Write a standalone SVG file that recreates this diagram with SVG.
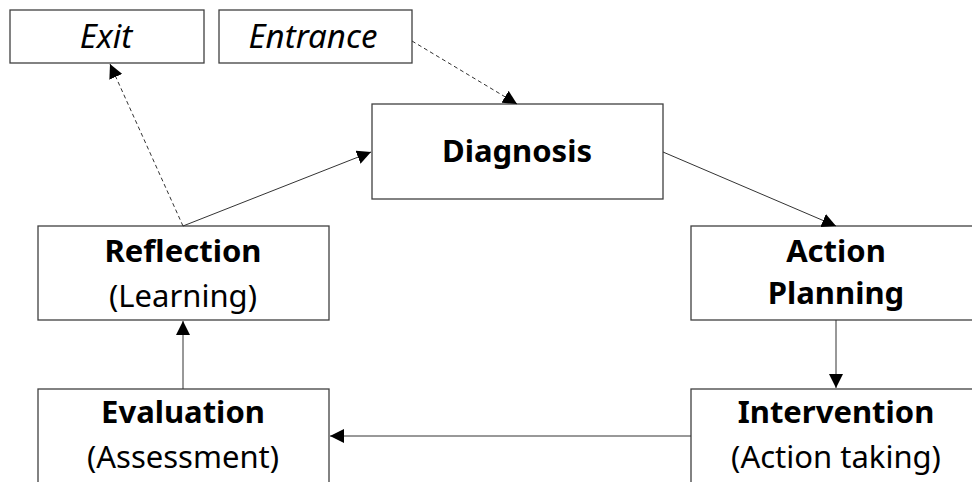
<svg xmlns="http://www.w3.org/2000/svg" width="972" height="482" viewBox="0 0 972 482">
<defs>
<style>
.box{fill:#fff;stroke:#404040;stroke-width:1.3}
.t{font-family:"Noto Sans","Open Sans","DejaVu Sans",sans-serif;font-size:31px;text-anchor:middle;fill:#000}
.b{font-weight:bold}
.i{font-style:italic;font-size:33px}
.ln{stroke:#333;stroke-width:1;fill:none}
.dash{stroke-dasharray:4,3}
</style>
<marker id="ah" viewBox="0 0 10 10" refX="10" refY="5" markerWidth="14" markerHeight="14" markerUnits="userSpaceOnUse" orient="auto">
<path d="M0,0 L10,5 L0,10 z" fill="#000"/>
</marker>
</defs>
<rect width="972" height="482" fill="#fff"/>
<g id="exit"><rect class="box" x="10" y="10" width="194" height="53"/><text class="t i" x="106" y="48">Exit</text></g>
<g id="entrance"><rect class="box" x="219" y="10" width="193" height="53"/><text class="t i" x="313" y="48">Entrance</text></g>
<g id="diagnosis"><rect class="box" x="372" y="104" width="291" height="95"/><text class="t b" x="517" y="162">Diagnosis</text></g>
<g id="reflection"><rect class="box" x="38" y="226" width="291" height="94"/><text class="t b" x="183" y="262">Reflection</text><text class="t" x="183" y="307">(Learning)</text></g>
<g id="action-planning"><rect class="box" x="691" y="226" width="300" height="94"/><text class="t b" x="836" y="262">Action</text><text class="t b" x="836" y="304">Planning</text></g>
<g id="evaluation"><rect class="box" x="38" y="389" width="291" height="110"/><text class="t b" x="183" y="423">Evaluation</text><text class="t" x="183" y="468">(Assessment)</text></g>
<g id="intervention"><rect class="box" x="691" y="389" width="300" height="110"/><text class="t b" x="836" y="423">Intervention</text><text class="t" x="836" y="468">(Action taking)</text></g>
<g id="connectors">
<line class="ln dash" x1="412" y1="41" x2="517" y2="104" marker-end="url(#ah)"/>
<line class="ln dash" x1="183" y1="226" x2="110" y2="64" marker-end="url(#ah)"/>
<line class="ln" x1="183" y1="226" x2="371" y2="152" marker-end="url(#ah)"/>
<line class="ln" x1="663" y1="152" x2="836" y2="226" marker-end="url(#ah)"/>
<line class="ln" x1="836" y1="320" x2="836" y2="388" marker-end="url(#ah)"/>
<line class="ln" x1="691" y1="436" x2="330" y2="436" marker-end="url(#ah)"/>
<line class="ln" x1="183" y1="389" x2="183" y2="321" marker-end="url(#ah)"/>
</g>
</svg>
